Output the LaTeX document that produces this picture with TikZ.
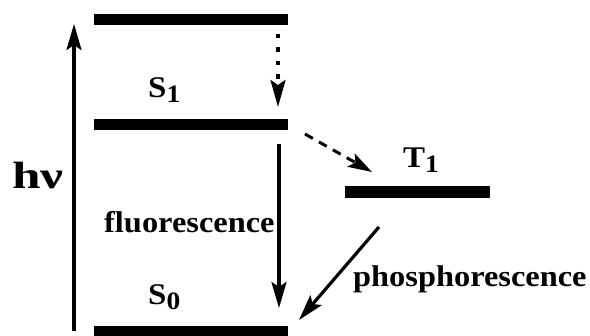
\documentclass[tikz,border=0pt]{standalone}
\usepackage{fontspec}
\setmainfont{Liberation Serif}
\usetikzlibrary{arrows.meta}
\newcommand\wlbl[1]{\scalebox{1.08}[1]{\fontsize{30}{32}\selectfont\bfseries #1}}
\newcommand\slbl[2]{\scalebox{1.1}[1]{\fontsize{30}{32}\selectfont\bfseries #1\raisebox{-5pt}{\fontsize{25}{25}\selectfont #2}}}
\begin{document}
\begin{tikzpicture}[x=1pt,y=-1pt,
  level/.style={fill=black,draw=none,inner sep=0pt,minimum height=11pt},
  lbl/.style={inner sep=0pt,anchor=base west},
  arr/.style={line width=3.2pt,-{Stealth[length=26pt,width=15pt,inset=5pt]}},
  dotarr/.style={line width=3.2pt,dash pattern=on 4.5pt off 9pt,-{Stealth[length=27pt,width=15pt,inset=5pt]}},
  dasharr/.style={line width=3pt,dash pattern=on 9pt off 7pt,-{Stealth[length=24pt,width=15pt,inset=5pt]}}]
\useasboundingbox (0,0) rectangle (590,336);
% levels
\node[level,minimum width=194pt] (Stop) at (191,19.5) {};
\node[level,minimum width=194pt] (S1) at (191,124.5) {};
\node[level,minimum width=194pt] (S0) at (191,332) {};
\node[level,minimum width=145pt,minimum height=12pt] (T1) at (417.5,192) {};
% labels
\node[lbl] (s1lbl) at (148,98) {\slbl{S}{1}};
\node[lbl] (s0lbl) at (148,305) {\slbl{S}{0}};
\node[lbl] (t1lbl) at (403,168) {\slbl{T}{1}};
\node[lbl] (hnu) at (12,189) {\scalebox{1.35}[1]{\fontsize{38}{40}\selectfont\bfseries hν}};
\node[lbl] (fluo) at (104,233) {\wlbl{fluorescence}};
\node[lbl] (phos) at (353,287) {\wlbl{phosphorescence}};
% connector end points
\coordinate (hvA) at (74,331);
\coordinate (hvB) at (74,24);
\coordinate (icA) at (278,34);
\coordinate (icB) at (278,107);
\coordinate (flA) at (279,144);
\coordinate (flB) at (279,308);
\coordinate (iscA) at (305,134);
\coordinate (iscB) at (372,172);
\coordinate (phA) at (379,227);
\coordinate (phB) at (299,320);
% connectors
\draw[arr] (hvA) -- (hvB);
\draw[dotarr] (icA) -- (icB);
\draw[arr] (flA) -- (flB);
\draw[dasharr] (iscA) -- (iscB);
\draw[arr] (phA) -- (phB);
\end{tikzpicture}
\end{document}
